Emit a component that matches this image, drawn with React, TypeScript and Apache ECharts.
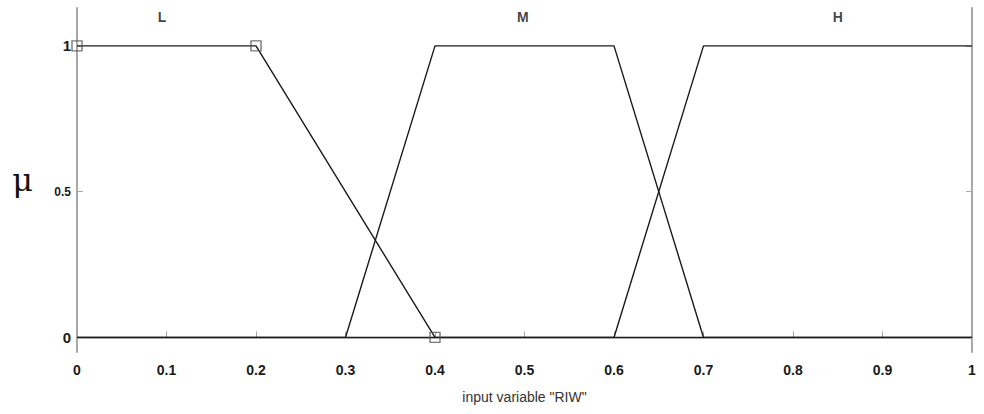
import React, { useEffect, useRef } from "react";
import * as echarts from "echarts";

// Membership functions of input variable "RIW"
const lowX = [0, 0.2, 0.4, 1];
const lowY = [1, 1, 0, 0];
const midX = [0, 0.3, 0.4, 0.6, 0.7, 1];
const midY = [0, 0, 1, 1, 0, 0];
const highX = [0, 0.6, 0.7, 1];
const highY = [0, 0, 1, 1];
// points of the selected set that carry square handles
const handleX = [0, 0.2, 0.4];
const handleY = [1, 1, 0];

const setNames = ["L", "M", "H"];
const setLabelX = [0.095, 0.498, 0.85];
const setLabelY = 1.1;

const yTicks = [0, 0.5, 1];

const zip = (xs: number[], ys: number[]) => xs.map((x, i) => [x, ys[i]]);

export default function App() {
  const ref = useRef<HTMLDivElement>(null);
  useEffect(() => {
    if (!ref.current) return;
    const chart = echarts.init(ref.current, undefined, { renderer: "svg" });
    const axisGray = "#a8a8a8";
    const lineStyle = { color: "#1a1a1a", width: 1.4 };
    chart.setOption({
      animation: false,
      backgroundColor: "#ffffff",
      grid: { left: 77, right: 12, top: 8, bottom: 62 },
      xAxis: {
        type: "value",
        min: 0,
        max: 1,
        interval: 0.1,
        name: 'input variable "RIW"',
        nameLocation: "middle",
        nameGap: 38,
        nameTextStyle: { fontFamily: "Liberation Sans", fontSize: 14, color: "#333" },
        axisLine: { show: true, lineStyle: { color: axisGray, width: 2 } },
        axisTick: { show: true, inside: true, length: 6, lineStyle: { color: axisGray, width: 1 } },
        axisLabel: {
          fontFamily: "Liberation Sans",
          fontSize: 14,
          fontWeight: "bold",
          color: "#1a1a1a",
          margin: 11,
          formatter: (v: number) => String(Math.round(v * 10) / 10),
        },
        splitLine: { show: false },
      },
      yAxis: [
        {
          type: "value",
          min: -0.05,
          max: 1.13,
          name: "μ",
          nameLocation: "middle",
          nameRotate: 0,
          nameGap: 44,
          nameTextStyle: { fontFamily: "DejaVu Serif", fontSize: 32, color: "#111" },
          axisLine: { show: true, lineStyle: { color: axisGray, width: 2 } },
          axisTick: { show: true, inside: true, length: 6, customValues: yTicks, lineStyle: { color: axisGray } },
          axisLabel: {
            customValues: yTicks,
            margin: 6,
            formatter: (v: number) => (v === 0.5 ? "{s|0.5}" : `{b|${v}}`),
            rich: {
              s: { fontFamily: "Liberation Sans", fontSize: 12, fontWeight: "bold", color: "#1a1a1a" },
              b: { fontFamily: "Liberation Sans", fontSize: 15, fontWeight: "bold", color: "#1a1a1a" },
            },
          },
          splitLine: { show: false },
        },
        {
          type: "value",
          position: "right",
          min: -0.05,
          max: 1.13,
          axisLine: { show: true, lineStyle: { color: axisGray, width: 2 } },
          axisTick: { show: true, inside: true, length: 6, customValues: yTicks, lineStyle: { color: axisGray } },
          axisLabel: { show: false },
          splitLine: { show: false },
        },
      ],
      series: [
        { type: "line", data: zip(midX, midY), showSymbol: false, lineStyle, z: 3 },
        { type: "line", data: zip(highX, highY), showSymbol: false, lineStyle, z: 3 },
        { type: "line", data: zip(lowX, lowY), showSymbol: false, lineStyle, z: 4 },
        {
          type: "scatter",
          data: zip(handleX, handleY),
          symbol: "rect",
          symbolSize: 10,
          itemStyle: { color: "rgba(255,255,255,0)", borderColor: "#555", borderWidth: 1.4 },
          z: 5,
        },
        {
          type: "scatter",
          data: setNames.map((n, i) => ({ value: [setLabelX[i], setLabelY], name: n })),
          symbolSize: 0,
          label: {
            show: true,
            position: "inside",
            formatter: (p: any) => p.name,
            fontFamily: "Liberation Sans",
            fontSize: 14,
            fontWeight: "bold",
            color: "#111",
          },
          silent: true,
        },
      ],
    });
    return () => chart.dispose();
  }, []);
  return <div ref={ref} style={{ width: 984, height: 414, position: "absolute", left: 0, top: 0 }} />;
}
